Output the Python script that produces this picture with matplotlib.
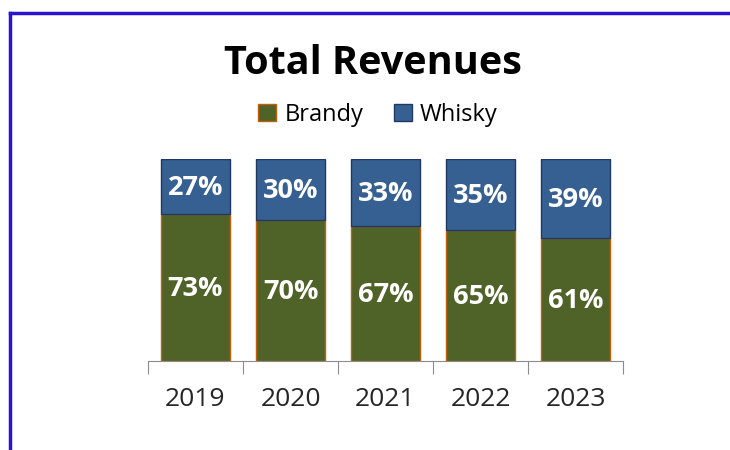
import numpy as np
import matplotlib.pyplot as plt
from matplotlib.lines import Line2D
from matplotlib.patches import Patch

years = ['2019', '2020', '2021', '2022', '2023']
brandy = [73, 70, 67, 65, 61]
whisky = [27, 30, 33, 35, 39]

green = '#4f6228'
blue = '#376092'

plt.rcParams['font.family'] = ['Open Sans', 'DejaVu Sans']

fig = plt.figure(figsize=(7.3, 4.5), dpi=100)
ax = fig.add_axes([148/730, 1 - 361/450, 475/730, 202/450])

x = np.arange(len(years))
b = np.array(brandy) / 100
w = np.array(whisky) / 100
ax.bar(x, b, width=0.72, color=green, edgecolor='#c0600f', linewidth=1)
ax.bar(x, w, bottom=b, width=0.72, color=blue, edgecolor='#1f3864', linewidth=1)

for i in range(len(years)):
    ax.text(x[i], b[i] / 2 - 0.01, f'{brandy[i]}%', ha='center', va='center',
            color='white', fontsize=19.5, fontweight='bold')
    ax.text(x[i], b[i] + w[i] / 2 - 0.01, f'{whisky[i]}%', ha='center', va='center',
            color='white', fontsize=19.5, fontweight='bold')

ax.set_xlim(-0.5, 4.5)
ax.set_ylim(0, 1)
ax.set_yticks([])
for s in ['top', 'right', 'left']:
    ax.spines[s].set_visible(False)
ax.spines['bottom'].set_color('#8c8c8c')
ax.set_xticks(np.arange(-0.5, 5, 1))
ax.set_xticklabels([])
ax.set_xticks(x, minor=True)
ax.set_xticklabels(years, minor=True, fontsize=19, color='#262626')
ax.tick_params(axis='x', which='major', length=9, color='#8c8c8c')
ax.tick_params(axis='x', which='minor', length=0, pad=19)

fig.text(373/730, 1 - 63/450, 'Total Revenues', ha='center', va='center',
         fontsize=28.5, fontweight='bold')

handles = [Patch(facecolor=green, edgecolor='#c0600f', label='Brandy'),
           Patch(facecolor=blue, edgecolor='#1f3864', label='Whisky')]
fig.legend(handles=handles, loc='center', bbox_to_anchor=(378/730, 1 - 115/450),
           ncol=2, frameon=False, fontsize=17, handlelength=0.75, handleheight=0.75,
           handletextpad=0.35, columnspacing=1.3, borderpad=0)

# blue frame along the top and left edges
fig.add_artist(Line2D([10/730, 10/730], [0, 1 - 13/450], color='#2a12d0', lw=2.5))
fig.add_artist(Line2D([10/730, 1], [1 - 13/450, 1 - 13/450], color='#2a12d0', lw=2.5))

plt.savefig('out.png', dpi=100)
